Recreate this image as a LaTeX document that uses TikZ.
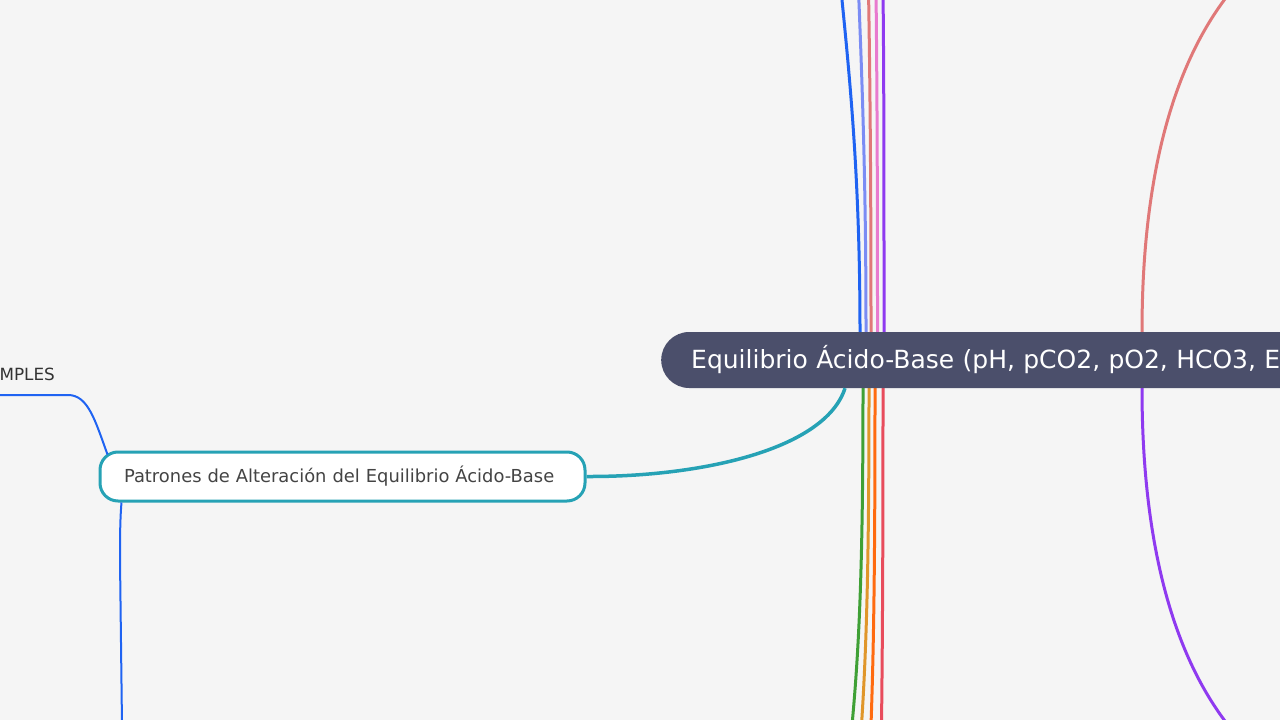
\documentclass[tikz,border=0pt]{standalone}
\usepackage{fontspec}
\setmainfont{DejaVu Sans}
\definecolor{bg}{HTML}{F5F5F5}
\definecolor{hub}{HTML}{4B4F6B}
\definecolor{teal}{HTML}{26A2B5}
\definecolor{lblue}{HTML}{1F63F2}
\definecolor{peri}{HTML}{7B8CF4}
\definecolor{salmon}{HTML}{E07878}
\definecolor{pinkc}{HTML}{E87ACF}
\definecolor{purp}{HTML}{8F3AF0}
\definecolor{grn}{HTML}{3FA035}
\definecolor{ochre}{HTML}{E0962A}
\definecolor{orng}{HTML}{FF6B10}
\definecolor{redc}{HTML}{E84C5C}
\definecolor{txt}{HTML}{444444}
\tikzset{
  hubnode/.style={fill=hub, text=white, rounded corners=28pt, minimum height=56pt,
    inner xsep=30pt, inner ysep=0pt, text width=700pt, align=left,
    font=\fontsize{25}{30}\selectfont},
  subnode/.style={fill=white, draw=teal, line width=3pt, rounded corners=18pt,
    minimum height=49pt, inner xsep=24pt, inner ysep=0pt, text width=437pt, align=left,
    text=txt, font=\fontsize{17.9}{21}\selectfont},
  leaf/.style={text=black!80, inner sep=0pt, font=\fontsize{16.8}{20}\selectfont},
  branch/.style={line width=3pt},
  thin/.style={line width=2pt, draw=lblue}
}
\begin{document}
\begin{tikzpicture}[x=1pt,y=-1pt]
\useasboundingbox (0,0) rectangle (1280,720);
\fill[bg] (0,0) rectangle (1280,720);
\clip (0,0) rectangle (1280,720);
% free ends
\coordinate (t1) at (841,-10);
\coordinate (t2) at (858.5,-10);
\coordinate (t3) at (868.5,-10);
\coordinate (t4) at (876,-10);
\coordinate (t5) at (883,-10);
\coordinate (b1) at (852,725);
\coordinate (b2) at (861.5,725);
\coordinate (b3) at (871,725);
\coordinate (b4) at (881.5,725);
\coordinate (rt) at (1250,-30);
\coordinate (rb) at (1250,750);
\coordinate (lm) at (-10,395);
\coordinate (lb) at (122,725);
% phantom hub for anchor positions
\path node[hubnode, anchor=west, draw=none, fill=none, text opacity=0] (c0) at (661,360) {Equilibrio Ácido-Base (pH, pCO2, pO2, HCO3, E};
% branches up
\draw[branch, lblue] ([xshift=199pt]c0.north west) .. controls (860,180) and (850,80) .. (t1);
\draw[branch, peri] ([xshift=205pt]c0.north west) .. controls (866,180) and (862,80) .. (t2);
\draw[branch, salmon] ([xshift=210pt]c0.north west) .. controls (871,180) and (870,80) .. (t3);
\draw[branch, pinkc] ([xshift=216.5pt]c0.north west) .. controls (877.5,180) and (877,80) .. (t4);
\draw[branch, purp] ([xshift=223pt]c0.north west) .. controls (884,180) and (884,80) .. (t5);
% branches down
\draw[branch, grn] ([xshift=202pt]c0.south west) .. controls (863,550) and (860,640) .. (b1);
\draw[branch, ochre] ([xshift=208pt]c0.south west) .. controls (869,550) and (867,640) .. (b2);
\draw[branch, orng] ([xshift=214pt]c0.south west) .. controls (875,550) and (874,640) .. (b3);
\draw[branch, redc] ([xshift=222pt]c0.south west) .. controls (883,550) and (882.5,640) .. (b4);
% right curves
\draw[branch, salmon] ([xshift=481pt]c0.north west) .. controls (1142,160) and (1180,40) .. (rt);
\draw[branch, purp] ([xshift=481pt]c0.south west) .. controls (1142,560) and (1180,680) .. (rb);
% hub
\node[hubnode, anchor=west] (c) at (661,360) {Equilibrio Ácido-Base (pH, pCO2, pO2, HCO3, E};
% sub node
\node[subnode, anchor=west] (p) at (98.5,476.5) {Patrones de Alteración del Equilibrio Ácido-Base};
\draw[line width=3.5pt, teal] ([xshift=184pt]c.south west) .. controls (825,450) and (700,477) .. (p.east);
% left connectors
\node[leaf, anchor=base east] (m) at (55,380) {MPLES};
\draw[thin] ([xshift=9pt,yshift=-4pt]p.north west) .. controls (95,420) and (88,395) .. (68,395) -- (lm);
\draw[thin] ([xshift=23pt]p.south west) .. controls (120,520) and (120,540) .. (120,560) -- (lb);
\end{tikzpicture}
\end{document}
